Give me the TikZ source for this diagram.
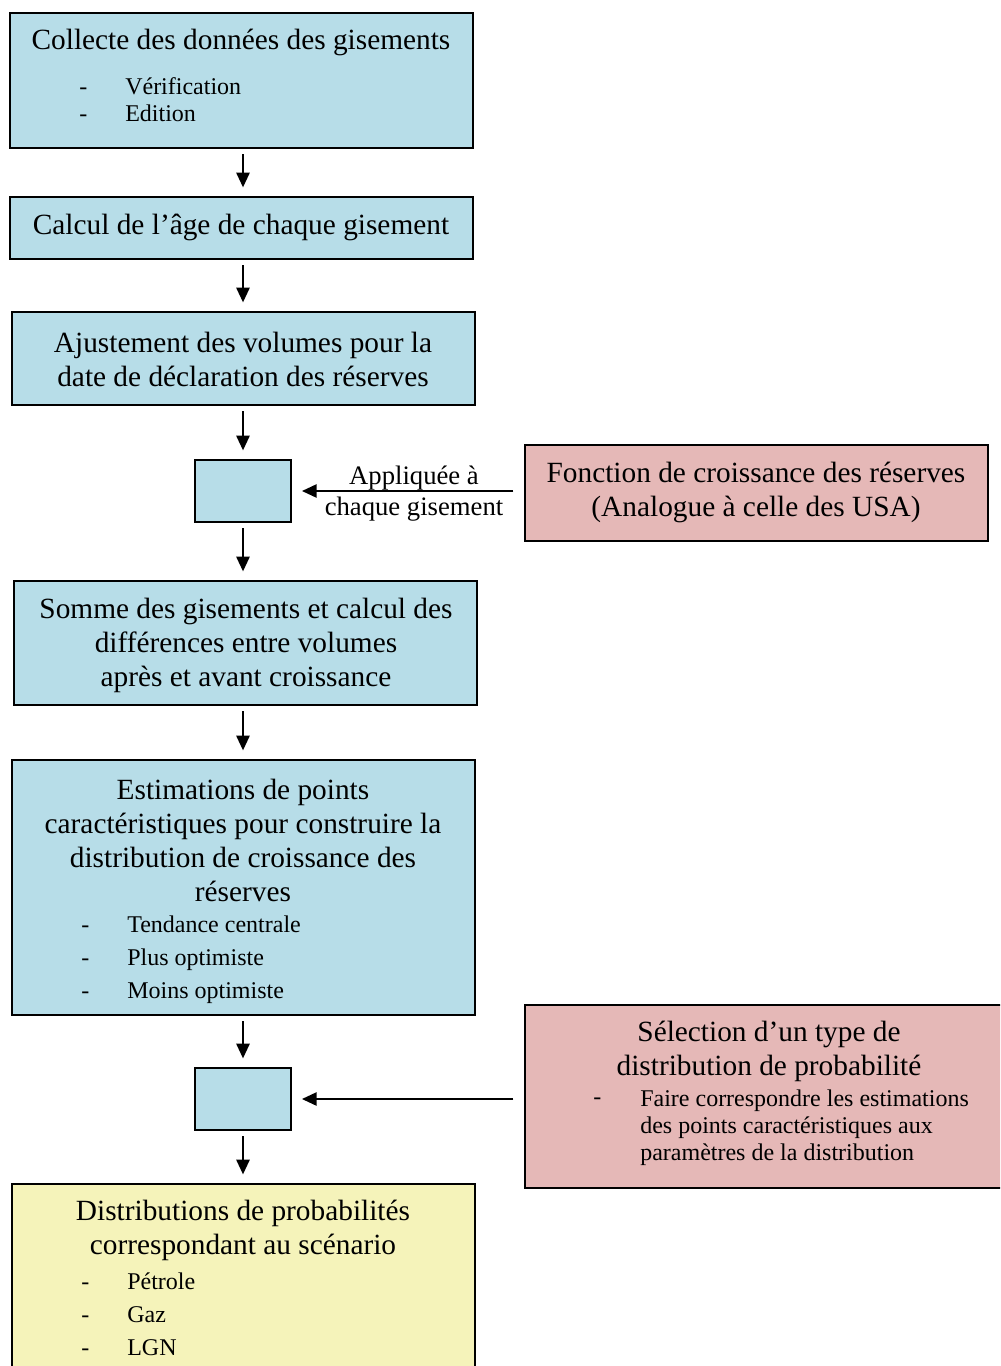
\documentclass[tikz,border=0pt]{standalone}
\usepackage{fontspec}
\setmainfont{Liberation Serif}
\usetikzlibrary{fit,arrows.meta}
\definecolor{boxblue}{HTML}{B7DDE8}
\definecolor{boxpink}{HTML}{E5B8B7}
\definecolor{boxyellow}{HTML}{F5F3BA}
\tikzset{
  box/.style={draw=black, line width=1.5pt, inner sep=0pt, rectangle},
  bluebox/.style={box, fill=boxblue},
  pinkbox/.style={box, fill=boxpink},
  yellowbox/.style={box, fill=boxyellow},
  title/.style={font=\fontsize{22}{25.5}\selectfont, align=center, inner sep=0pt},
  item/.style={font=\fontsize{18}{20}\selectfont, anchor=west, inner sep=0pt, text height=1.5ex, text depth=0.3ex},
  arr/.style={line width=1.2pt, -{Triangle[length=11pt,width=10pt]}, shorten <=4pt, shorten >=6.5pt},
  harr/.style={line width=1.2pt, -{Triangle[length=11pt,width=10pt]}, shorten <=8pt, shorten >=7.5pt},
}
\begin{document}
\begin{tikzpicture}[x=0.75pt,y=-0.75pt]
\useasboundingbox (0,0) rectangle (1000,1366);
\clip (0,0) rectangle (1000,1366);
% boxes
\node[bluebox, fit={(10,13) (473,148)}] (b1) {};
\node[bluebox, fit={(10,197) (473,259)}] (b2) {};
\node[bluebox, fit={(12,312) (475,405)}] (b3) {};
\node[bluebox, fit={(195,460) (291,522)}] (s1) {};
\node[pinkbox, fit={(525,445) (988,541)}] (f) {};
\node[bluebox, fit={(14,581) (477,705)}] (b4) {};
\node[bluebox, fit={(12,760) (475,1015)}] (b5) {};
\node[bluebox, fit={(195,1068) (291,1130)}] (s2) {};
\node[pinkbox, fit={(525,1005) (1010,1188)}] (sel) {};
\node[yellowbox, fit={(12,1184) (475,1380)}] (b6) {};
% texts
\node[title] (t1) at (241,42) {Collecte des données des gisements};
\node[item] (d1a) at (79,91) {-};
\node[item] (i1a) at (125,91) {Vérification};
\node[item] (d1b) at (79,118) {-};
\node[item] (i1b) at (125,118) {Edition};
\node[title] (t2) at (241,227) {Calcul de l’âge de chaque gisement};
\node[title] (t3) at (243,359.5) {Ajustement des volumes pour la\\date de déclaration des réserves};
\node[title] (tf) at (756,492) {Fonction de croissance des réserves\\(Analogue à celle des USA)};
\node[title] (t4) at (246,645) {Somme des gisements et calcul des\\différences entre volumes\\après et avant croissance};
\node[title] (t5) at (243,840.5) {Estimations de points\\caractéristiques pour construire la\\distribution de croissance des\\réserves};
\node[item] (d5a) at (81,929) {-};
\node[item] (i5a) at (127,929) {Tendance centrale};
\node[item] (d5b) at (81,962) {-};
\node[item] (i5b) at (127,962) {Plus optimiste};
\node[item] (d5c) at (81,995) {-};
\node[item] (i5c) at (127,995) {Moins optimiste};
\node[title] (ts) at (769,1051) {Sélection d’un type de\\distribution de probabilité};
\node[item] (dsa) at (593,1101) {-};
\node[item, align=left, font=\fontsize{18}{20.25}\selectfont, text height=, text depth=] (isa) at (640,1128) {Faire correspondre les estimations\\des points caractéristiques aux\\paramètres de la distribution};
\node[title] (t6) at (243,1230) {Distributions de probabilités\\correspondant au scénario};
\node[item] (d6a) at (81,1286) {-};
\node[item] (i6a) at (127,1286) {Pétrole};
\node[item] (d6b) at (81,1319) {-};
\node[item] (i6b) at (127,1319) {Gaz};
\node[item] (d6c) at (81,1352) {-};
\node[item] (i6c) at (127,1352) {LGN};
\node[font=\fontsize{20}{23}\selectfont, align=center, inner sep=0pt] (lab) at (414,493.5) {Appliquée à\\chaque gisement};
% connectors
\draw[arr] (b1.south -| s1) -- (b2.north -| s1);
\draw[arr] (b2.south -| s1) -- (b3.north -| s1);
\draw[arr] (b3.south -| s1) -- (s1.north);
\draw[arr] (s1.south) -- (b4.north -| s1);
\draw[arr] (b4.south -| s1) -- (b5.north -| s1);
\draw[arr] (b5.south -| s1) -- (s2.north);
\draw[arr] (s2.south) -- (b6.north -| s2);
\draw[harr] (f.west |- s1) -- (s1.east);
\draw[harr] (sel.west |- s2) -- (s2.east);
\end{tikzpicture}
\end{document}
